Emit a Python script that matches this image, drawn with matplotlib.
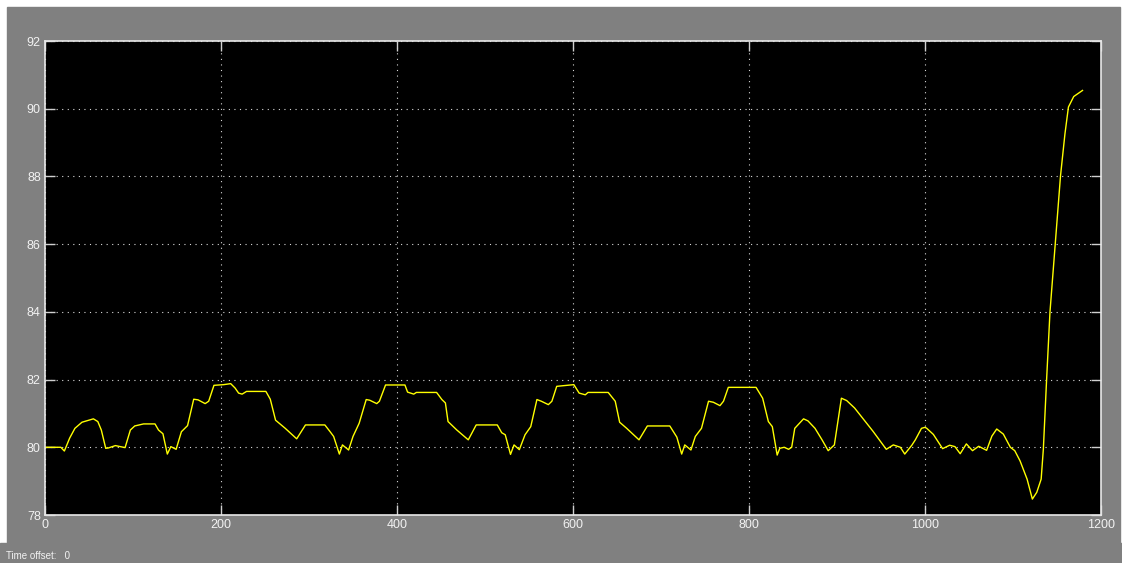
import matplotlib.pyplot as plt
from matplotlib.patches import Rectangle

# scope trace: time (s) and signal value
t = [0, 18, 22, 28, 34, 42, 55, 60, 64, 69,
     72, 80, 91, 97, 102, 112, 125, 129, 134, 139,
     143, 149, 155, 162, 169, 174, 182, 186, 192, 203,
     211, 216, 220, 224, 229, 251, 256, 262, 273, 286,
     296, 318, 324, 328, 334.5, 338, 345, 350, 357, 365,
     369, 377, 380, 387, 409, 412, 419, 422, 445, 451,
     455, 458, 468, 481, 490, 514, 519, 523, 529, 533,
     539, 545.5, 552, 559, 564, 572, 576, 581.5, 593, 601,
     607, 614, 617, 640, 648, 653, 661, 675, 684.5, 710,
     718, 723.5, 727, 734, 739, 746, 754, 759.5, 767, 771,
     776.5, 808, 815.5, 822, 826.5, 832, 835, 840, 845, 848.5,
     852, 862, 867, 875, 883, 890, 897, 905, 911, 920,
     941, 956, 964, 972, 977, 985, 989, 996, 1000, 1002,
     1009.5, 1020, 1028, 1034, 1040, 1047, 1054, 1061, 1070, 1076,
     1081.5, 1089, 1097, 1102, 1108, 1116, 1122, 1127, 1132, 1134.5,
     1138, 1142, 1148, 1154, 1159, 1163, 1169, 1179]
v = [80.0, 80.0, 79.89, 80.27, 80.56, 80.74, 80.84, 80.76, 80.51, 79.97,
     79.98, 80.05, 79.99, 80.51, 80.63, 80.69, 80.69, 80.51, 80.4, 79.8,
     80.02, 79.94, 80.46, 80.64, 81.42, 81.4, 81.29, 81.36, 81.83, 81.85,
     81.88, 81.75, 81.6, 81.57, 81.65, 81.65, 81.42, 80.8, 80.56, 80.25,
     80.66, 80.66, 80.46, 80.32, 79.8, 80.07, 79.92, 80.32, 80.71, 81.41,
     81.39, 81.29, 81.36, 81.84, 81.84, 81.63, 81.57, 81.62, 81.62, 81.41,
     81.31, 80.76, 80.51, 80.22, 80.66, 80.66, 80.43, 80.37, 79.79, 80.07,
     79.93, 80.37, 80.61, 81.41, 81.36, 81.26, 81.36, 81.8, 81.83, 81.85,
     81.6, 81.55, 81.62, 81.62, 81.36, 80.74, 80.56, 80.22, 80.63, 80.63,
     80.3, 79.8, 80.07, 79.92, 80.32, 80.56, 81.36, 81.33, 81.23, 81.36,
     81.77, 81.77, 81.45, 80.76, 80.61, 79.77, 79.97, 80.0, 79.94, 80.0,
     80.56, 80.84, 80.78, 80.56, 80.22, 79.9, 80.07, 81.45, 81.38, 81.16,
     80.47, 79.94, 80.07, 80.0, 79.8, 80.06, 80.22, 80.56, 80.59, 80.56,
     80.38, 79.96, 80.06, 80.02, 79.81, 80.1, 79.9, 80.03, 79.91, 80.33,
     80.54, 80.39, 80.0, 79.9, 79.6, 79.06, 78.47, 78.67, 79.06, 79.95,
     81.9, 83.99, 86.0, 88.02, 89.25, 90.05, 90.36, 90.54]

xticks = [0, 200, 400, 600, 800, 1000, 1200]
yticks = [78, 80, 82, 84, 86, 88, 90, 92]

W, H = 1122, 563
fig = plt.figure(figsize=(W / 100, H / 100), dpi=100, facecolor='white')

# grey window body and status bar, kept behind the axes
fig.patches.append(Rectangle((7 / W, 20 / H), (W - 9) / W, (H - 27) / H,
                             transform=fig.transFigure, color='#808080', zorder=-10))
fig.patches.append(Rectangle((0, 0), 1, 20 / H,
                             transform=fig.transFigure, color='#808080', zorder=-10))

ax = fig.add_axes([45 / W, 48 / H, 1056 / W, 474 / H])
ax.set_zorder(5)
ax.set_facecolor('black')
ax.plot(t, v, color='#ffff00', lw=1.0)

ax.set_xlim(0, 1200)
ax.set_ylim(78, 92)
ax.set_xticks(xticks)
ax.set_yticks(yticks)
ax.grid(True, color='#d8d8d8', linestyle=(0, (1, 4)), linewidth=0.8)

for s in ax.spines.values():
    s.set_color('#e8e8e8')
    s.set_linewidth(1.2)

ax.tick_params(direction='in', length=7.2, width=1, color='#d0d0d0',
               top=True, right=True, labelcolor='#f2f2f2', labelsize=9, pad=3)
for lab in ax.get_xticklabels() + ax.get_yticklabels():
    lab.set_family('Liberation Sans')

fig.text(6 / W, 7 / H, 'Time offset:   0', color='#f2f2f2', fontsize=7,
         family='Liberation Sans', va='center', ha='left')

fig.savefig('out.png', dpi=100, facecolor=fig.get_facecolor())
